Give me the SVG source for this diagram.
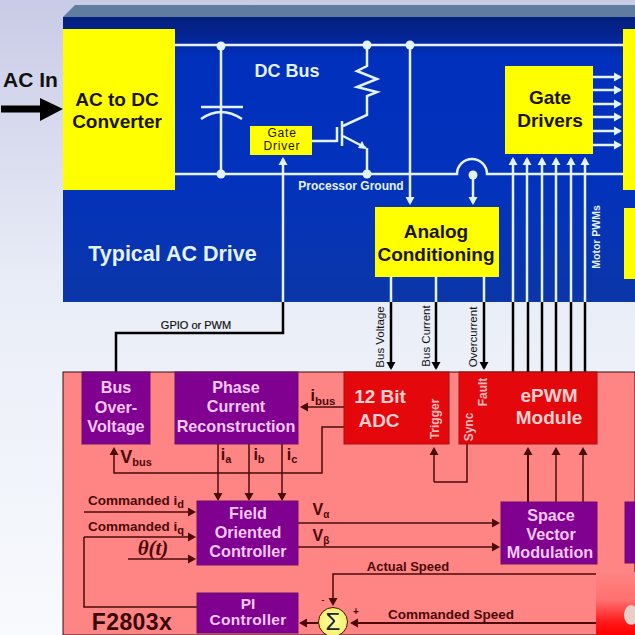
<svg xmlns="http://www.w3.org/2000/svg" width="635" height="635" viewBox="0 0 635 635">
<defs>
<linearGradient id="bg" x1="0" y1="0" x2="0" y2="1"><stop offset="0" stop-color="#c9cbe6"/><stop offset="0.45" stop-color="#e9edf7"/><stop offset="1" stop-color="#f8fafd"/></linearGradient>
<linearGradient id="blue" gradientUnits="userSpaceOnUse" x1="0" y1="17" x2="0" y2="302"><stop offset="0" stop-color="#04207e"/><stop offset="0.05" stop-color="#04228c"/><stop offset="0.14" stop-color="#0030bc"/><stop offset="0.6" stop-color="#0333bc"/><stop offset="1" stop-color="#0b36a8"/></linearGradient>
<radialGradient id="sum" cx="0.5" cy="0.5" r="0.6"><stop offset="0" stop-color="#ffffa8"/><stop offset="1" stop-color="#eeee60"/></radialGradient>
<linearGradient id="wm" x1="0" y1="0" x2="0" y2="1"><stop offset="0" stop-color="#ff8484"/><stop offset="0.45" stop-color="#ff7070"/><stop offset="0.8" stop-color="#ff1818"/><stop offset="1" stop-color="#ff0000"/></linearGradient>
<marker id="aw" markerUnits="userSpaceOnUse" markerWidth="10" markerHeight="10" refX="6" refY="5" orient="auto"><path d="M0,0.5 L8,5 L0,9.5 Z" fill="#e4f2fb"/></marker>
<marker id="ak" markerUnits="userSpaceOnUse" markerWidth="10" markerHeight="10" refX="6" refY="5" orient="auto"><path d="M0,0.5 L8,5 L0,9.5 Z" fill="#000"/></marker>
<marker id="ad" markerUnits="userSpaceOnUse" markerWidth="10" markerHeight="10" refX="6" refY="5" orient="auto"><path d="M0,0.5 L8,5 L0,9.5 Z" fill="#4a0a0a"/></marker>
</defs>
<style>
text{font-family:"Liberation Sans",Arial,sans-serif;font-weight:bold;text-anchor:middle}
.y{fill:#ffff00}
.p{fill:#800090;stroke:#6a1070;stroke-width:1}
.r{fill:#e4080c;stroke:#a01010;stroke-width:1}
.ky{fill:#1c1408;font-size:19px}
.kp{fill:#f4c8f4;font-size:16.2px}
.kr{fill:#f8d0d0;font-size:19px}
.w{fill:none;stroke:#e4f2fb;stroke-width:2.5}
.wa{fill:none;stroke:#e4f2fb;stroke-width:2.5;marker-end:url(#aw)}
.b{fill:none;stroke:#000;stroke-width:2.5}
.ba{fill:none;stroke:#000;stroke-width:2.5;marker-end:url(#ak)}
.d{fill:none;stroke:#4a0a0a;stroke-width:1.5}
.da{fill:none;stroke:#4a0a0a;stroke-width:1.5;marker-end:url(#ad)}
.dot{fill:#e4f2fb}
.ld{fill:#4a0a0a;font-size:14px}
.sub{font-size:11px}
.lw{fill:#e4f2fb}
.side{fill:#111;font-weight:normal;font-size:11.5px}
.rot{fill:#f6bcbc;font-size:12px}
</style>
<rect width="635" height="635" fill="url(#bg)"/>
<polygon points="63,17 75,5 635,5 635,17" fill="#5f7d9f"/>
<rect x="63" y="17" width="572" height="285" fill="url(#blue)"/>
<rect x="63" y="372" width="572" height="263" fill="#ff8484" stroke="#301010" stroke-width="1"/>

<g id="connectors">
<path class="w" d="M175,45 H623"/>
<path class="w" d="M175,174 H457 A15,15 0 0 1 487,174 H623"/>
<path class="w" d="M221,45 V174"/>
<path class="w" d="M201,107 H243"/>
<path class="w" d="M201,119 Q221,105 242,119"/>
<path class="w" d="M367,45 V66 L357,71 L377,79 L357,87 L377,92 L367,96 V115 L343,126"/>
<path class="w" d="M311,141 H337 M337,127 V142 M342,121 V146"/>
<path class="w" d="M343,136 L366,148"/>
<path d="M366,149 L358,148 L362,141 Z" fill="#e4f2fb"/>
<path class="w" d="M367,148 V174"/>
<path class="wa" d="M410,45 V203"/>
<path class="wa" d="M473,174 V203"/>
<circle class="dot" cx="221" cy="46" r="4.5"/>
<circle class="dot" cx="221" cy="174" r="4.5"/>
<circle class="dot" cx="367" cy="45" r="4.5"/>
<circle class="dot" cx="367" cy="174" r="4.5"/>
<circle class="dot" cx="410" cy="45" r="4.5"/>
<circle class="dot" cx="473" cy="175" r="4.5"/>
<path class="wa" d="M593,77 H620"/><path class="wa" d="M593,90 H620"/><path class="wa" d="M593,104 H620"/><path class="wa" d="M593,117 H620"/><path class="wa" d="M593,131 H620"/><path class="wa" d="M593,145 H620"/>
<path class="wa" d="M513,302 V159"/><path class="wa" d="M527,302 V159"/><path class="wa" d="M542,302 V159"/><path class="wa" d="M556,302 V159"/><path class="wa" d="M571,302 V159"/><path class="wa" d="M585,302 V159"/>
<path class="w" d="M391,277 V302"/><path class="w" d="M436,277 V302"/><path class="w" d="M484,277 V302"/>
<path class="wa" d="M283,302 V159"/>
<path class="b" d="M283,302 V333 H116 V372"/>
<path class="ba" d="M391,302 V368"/><path class="ba" d="M436,302 V368"/><path class="ba" d="M484,302 V368"/>
<path class="b" d="M513,302 V372"/><path class="b" d="M528,302 V372"/><path class="b" d="M542,302 V372"/><path class="b" d="M556,302 V372"/><path class="b" d="M571,302 V372"/><path class="b" d="M585,302 V372"/>
<path d="M1,109 H42" stroke="#000" stroke-width="7" fill="none"/>
<path d="M40,98 L63,109 L40,121 Z" fill="#000"/>
<path class="da" d="M344,407 H302"/>
<path class="da" d="M344,427 H322 V473 H114 V449"/>
<path class="da" d="M218,444 V499"/><path class="da" d="M249,444 V499"/><path class="da" d="M282,444 V499"/>
<path class="da" d="M84,512 H194"/><path class="da" d="M84,537 H194"/><path class="da" d="M128,559 H194"/>
<path class="d" d="M84,537 V607 H197"/>
<path class="da" d="M298,523 H498"/><path class="da" d="M298,547 H498"/>
<path class="da" d="M528,502 V449" style="stroke-width:2"/><path class="da" d="M556,502 V449"/><path class="da" d="M583,502 V449"/>
<path class="da" d="M434,482 V449"/>
<path class="d" d="M434,482 H467 V444"/>
<path class="da" d="M600,574 H333 V604"/>
<path class="da" d="M600,623 H352" style="stroke-width:2"/>
<path class="da" d="M318,623 H301" style="stroke-width:2"/>
</g>

<g id="ac-in"><text x="30.5" y="87" font-size="21" style="fill:#111">AC In</text></g>
<g id="ac-dc"><rect class="y" x="63" y="29" width="112" height="161"/><text class="ky" x="117" y="106">AC to DC</text><text class="ky" x="117" y="128">Converter</text></g>
<g id="dc-bus-label"><text x="287" y="77" font-size="18" class="lw">DC Bus</text></g>
<g id="gate-driver"><rect class="y" x="250" y="126" width="62" height="29"/><text x="282" y="137" font-size="12" letter-spacing="0.8" style="fill:#1c1408;font-weight:normal">Gate</text><text x="282" y="150" font-size="12" letter-spacing="0.8" style="fill:#1c1408;font-weight:normal">Driver</text></g>
<g id="ground-label"><text x="351" y="190" font-size="12" class="lw">Processor Ground</text></g>
<g id="gate-drivers"><rect class="y" x="505" y="66" width="88" height="88"/><text class="ky" x="550" y="104">Gate</text><text class="ky" x="550" y="127">Drivers</text></g>
<g id="right-block"><rect class="y" x="623" y="29" width="12" height="161"/></g>
<g id="right-block-2"><rect class="y" x="624" y="208" width="11" height="71"/></g>
<g id="analog"><rect class="y" x="375" y="207" width="124" height="70"/><text class="ky" x="436" y="238">Analog</text><text class="ky" x="436" y="261">Conditioning</text></g>
<g id="drive-label"><text x="172.5" y="261" font-size="21.5" class="lw">Typical AC Drive</text></g>
<g id="pwm-label"><text transform="translate(600,237) rotate(-90)" font-size="10.5" class="lw">Motor PWMs</text></g>
<g id="gpio-label"><text x="196" y="329" style="fill:#111;font-size:11px;font-weight:normal;stroke:#111;stroke-width:.2">GPIO or PWM</text></g>
<g id="side-labels">
<text class="side" transform="translate(384,337) rotate(-90)">Bus Voltage</text>
<text class="side" transform="translate(430,336) rotate(-90)">Bus Current</text>
<text class="side" transform="translate(477,337) rotate(-90)">Overcurrent</text>
</g>
<g id="bus-ov"><rect class="p" x="82" y="372" width="68" height="72"/><text class="kp" x="116" y="393">Bus</text><text class="kp" x="116" y="413">Over-</text><text class="kp" x="116" y="432">Voltage</text></g>
<g id="phase"><rect class="p" x="175" y="372" width="123" height="72"/><text class="kp" x="236" y="393">Phase</text><text class="kp" x="236" y="412">Current</text><text class="kp" x="236" y="432">Reconstruction</text></g>
<g id="adc"><rect class="r" x="344" y="372" width="105" height="72"/><text class="kr" x="380" y="403">12 Bit</text><text class="kr" x="379" y="427">ADC</text><text class="rot" transform="translate(439,419) rotate(-90)">Trigger</text></g>
<g id="epwm"><rect class="r" x="459" y="372" width="138" height="72"/><text class="kr" x="549" y="402">ePWM</text><text class="kr" x="549" y="424">Module</text><text class="rot" transform="translate(487,392) rotate(-90)">Fault</text><text class="rot" transform="translate(473,427) rotate(-90)">Sync</text></g>
<g id="foc"><rect class="p" x="197" y="501" width="101" height="64"/><text class="kp" x="248" y="519">Field</text><text class="kp" x="248" y="538">Oriented</text><text class="kp" x="248" y="557">Controller</text></g>
<g id="svm"><rect class="p" x="501" y="502" width="96" height="62"/><text class="kp" x="551" y="521">Space</text><text class="kp" x="551" y="540">Vector</text><text class="kp" x="550" y="558">Modulation</text></g>
<g id="right-purple"><rect class="p" x="625" y="502" width="10" height="61"/></g>
<g id="pi"><rect class="p" x="197" y="593" width="101" height="40"/><text class="kp" x="248" y="609" style="font-size:15.5px">PI</text><text class="kp" x="248" y="625" style="font-size:15.5px;letter-spacing:.3px">Controller</text></g>
<g id="sum-node"><circle cx="333" cy="622" r="14.5" fill="url(#sum)" stroke="#4a0a0a" stroke-width="1"/><text x="333" y="630" font-size="24" style="fill:#222;font-weight:normal">Σ</text></g>
<g id="labels">
<text class="ld" x="136" y="505" style="font-size:13.5px">Commanded i<tspan class="sub" dy="3">d</tspan></text>
<text class="ld" x="136" y="531" style="font-size:13.5px">Commanded i<tspan class="sub" dy="3">q</tspan></text>
<text x="153" y="555" style="fill:#4a0a0a;font-family:'Liberation Serif',serif;font-style:italic;font-size:21px">θ(t)</text>
<text class="ld" x="323" y="401" style="font-size:16px">i<tspan class="sub" dy="4" style="font-size:11.5px">bus</tspan></text>
<text class="ld" x="136" y="463" style="font-size:18px">V<tspan class="sub" dy="3" style="font-size:11px">bus</tspan></text>
<text class="ld" x="226" y="460" style="font-size:16px">i<tspan class="sub" dy="3" style="font-size:11px">a</tspan></text>
<text class="ld" x="259" y="460" style="font-size:16px">i<tspan class="sub" dy="3" style="font-size:11px">b</tspan></text>
<text class="ld" x="292" y="460" style="font-size:16px">i<tspan class="sub" dy="3" style="font-size:11px">c</tspan></text>
<text class="ld" x="321" y="515" style="font-size:16px">V<tspan class="sub" dy="3" style="font-size:10px">α</tspan></text>
<text class="ld" x="321" y="541" style="font-size:16px">V<tspan class="sub" dy="3" style="font-size:10px">β</tspan></text>
<text class="ld" x="408" y="571" style="font-size:13px">Actual Speed</text>
<text class="ld" x="451" y="619" style="font-size:13.5px">Commanded Speed</text>
<text class="ld" x="323" y="603" style="font-size:10px;font-weight:normal">-</text>
<text class="ld" x="356" y="615" style="font-size:10px">+</text>
<text x="132" y="630" style="fill:#3a0808;font-size:23px;letter-spacing:.4px">F2803x</text>
</g>
<rect id="watermark-corner" x="596" y="572" width="39" height="63" fill="url(#wm)"/>
<ellipse cx="631" cy="615" rx="7" ry="10" fill="#e8d0c8"/>
</svg>
